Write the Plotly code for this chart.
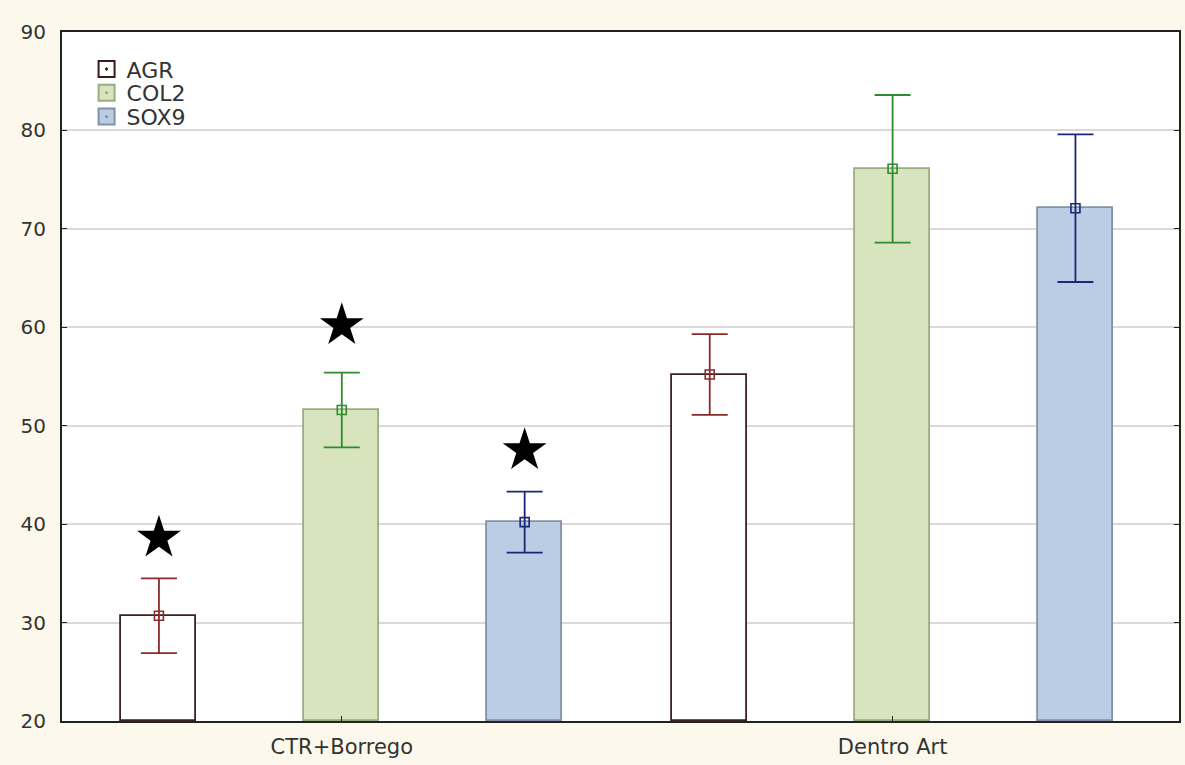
import plotly.graph_objects as go

categories = ["CTR+Borrego", "Dentro Art"]
series = ["AGR", "COL2", "SOX9"]
means = {
    "AGR": [30.7, 55.2],
    "COL2": [51.6, 76.1],
    "SOX9": [40.2, 72.1],
}
errors = {
    "AGR": [3.8, 4.1],
    "COL2": [3.8, 7.5],
    "SOX9": [3.1, 7.5],
}
star_series = ["AGR", "COL2", "SOX9"]
star_values = [38.6, 60.2, 47.5]
y_ticks = [20, 30, 40, 50, 60, 70, 80, 90]

offsets = {"AGR": -0.332, "COL2": 0.0, "SOX9": 0.332}
fills = {"AGR": "#ffffff", "COL2": "#d7e4bd", "SOX9": "#b9cde5"}
borders = {"AGR": "#3e2222", "COL2": "#98ad80", "SOX9": "#8391a8"}
errcols = {"AGR": "#8c2a2a", "COL2": "#2e8b2e", "SOX9": "#1c2777"}
legend_ids = {"AGR": "legend", "COL2": "legend2", "SOX9": "legend3"}
legend_y = {"AGR": 0.946, "COL2": 0.9115, "SOX9": 0.877}

FONT = "DejaVu Sans, Liberation Sans, Arial, sans-serif"
TXT = "#333333"

fig = go.Figure()
for s in series:
    xs = [i + offsets[s] for i in range(len(categories))]
    fig.add_trace(go.Bar(
        x=xs, y=[m - 20 for m in means[s]], base=20, width=0.136,
        marker=dict(color=fills[s], line=dict(color=borders[s], width=1.8)),
        showlegend=False, hoverinfo="skip",
    ))
    fig.add_trace(go.Scatter(
        x=xs, y=means[s], mode="markers",
        marker=dict(symbol="square-open", size=9, color=errcols[s], line=dict(width=1.6)),
        error_y=dict(type="data", array=errors[s], color=errcols[s], thickness=1.8, width=18),
        showlegend=False,
    ))
    fig.add_trace(go.Scatter(
        x=[None], y=[None], mode="markers", name=s, legend=legend_ids[s],
        marker=dict(symbol="square-dot", size=16, color=fills[s],
                    line=dict(color=borders[s] if s != "AGR" else "#3a1a1a", width=2)),
    ))

star_x = [offsets[s] for s in star_series]
fig.add_trace(go.Scatter(
    x=star_x, y=star_values, mode="markers",
    marker=dict(symbol="star", size=33, color="black", line=dict(width=0)),
    showlegend=False,
))

legend_common = dict(x=0.022, xanchor="left", yanchor="middle",
                     bgcolor="rgba(0,0,0,0)", itemsizing="trace",
                     font=dict(family=FONT, size=22, color=TXT))

fig.update_layout(
    width=1185, height=765,
    margin=dict(l=62, r=4, t=32, b=44),
    paper_bgcolor="#fdf8ec",
    plot_bgcolor="#ffffff",
    font=dict(family=FONT, size=19, color=TXT),
    legend=dict(y=legend_y["AGR"], **legend_common),
    legend2=dict(y=legend_y["COL2"], **legend_common),
    legend3=dict(y=legend_y["SOX9"], **legend_common),
    bargap=0,
)
fig.update_xaxes(
    range=[-0.508, 1.52], tickvals=[0, 1], ticktext=categories,
    showgrid=False, zeroline=False,
    showline=True, linecolor="#222222", linewidth=2, mirror=True,
    ticks="inside", ticklen=5, tickcolor="#222222",
    tickfont=dict(family=FONT, size=21, color=TXT),
    ticklabelstandoff=6,
)
fig.update_yaxes(
    range=[20, 90], tickvals=y_ticks,
    showgrid=True, gridcolor="#d9d9d9", gridwidth=1.5, zeroline=False,
    showline=True, linecolor="#222222", linewidth=2, mirror="allticks",
    ticks="inside", ticklen=5, tickcolor="#222222",
    tickfont=dict(family=FONT, size=20, color=TXT),
    ticklabelstandoff=10,
)

fig.write_html(
    "out.html",
    config={"displayModeBar": False},
    post_script="document.body.style.margin='0';document.body.style.background='#fdf8ec';",
)
